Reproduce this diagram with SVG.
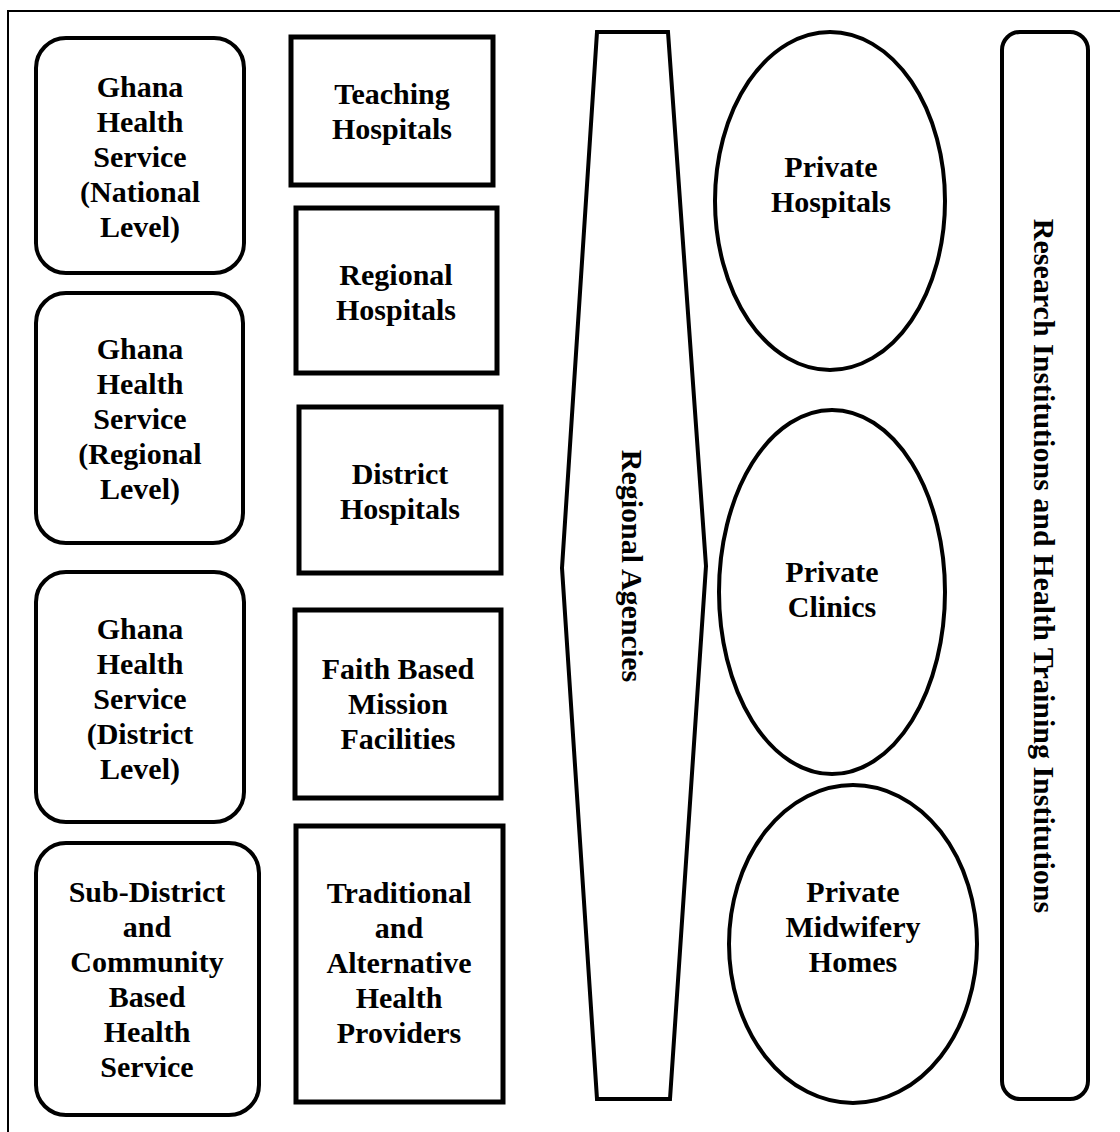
<svg xmlns="http://www.w3.org/2000/svg" width="1120" height="1132" viewBox="0 0 1120 1132">
<style>
.frame{fill:none;stroke:#000;stroke-width:2}
.rr{fill:#fff;stroke:#000;stroke-width:4}
.sq{fill:#fff;stroke:#000;stroke-width:5}
.el{fill:#fff;stroke:#000;stroke-width:4}
text{font-family:"Liberation Serif","Times New Roman",serif;font-weight:bold;font-size:30px;fill:#000;text-anchor:middle}
</style>
<rect width="1120" height="1132" fill="#fff"/>
<path class="frame" d="M8,1132 V11 H1120"/>
<g id="ghs-national">
<rect class="rr" x="36" y="38" width="208" height="235" rx="30"/>
<text x="140"><tspan x="140" y="97">Ghana</tspan><tspan x="140" y="132">Health</tspan><tspan x="140" y="167">Service</tspan><tspan x="140" y="202">(National</tspan><tspan x="140" y="237">Level)</tspan></text>
</g>
<g id="ghs-regional">
<rect class="rr" x="36" y="293" width="207" height="250" rx="30"/>
<text x="140"><tspan x="140" y="359">Ghana</tspan><tspan x="140" y="394">Health</tspan><tspan x="140" y="429">Service</tspan><tspan x="140" y="464">(Regional</tspan><tspan x="140" y="499">Level)</tspan></text>
</g>
<g id="ghs-district">
<rect class="rr" x="36" y="572" width="208" height="250" rx="30"/>
<text x="140"><tspan x="140" y="639">Ghana</tspan><tspan x="140" y="674">Health</tspan><tspan x="140" y="709">Service</tspan><tspan x="140" y="744">(District</tspan><tspan x="140" y="779">Level)</tspan></text>
</g>
<g id="sub-district">
<rect class="rr" x="36" y="843" width="223" height="272" rx="30"/>
<text x="147"><tspan x="147" y="902">Sub-District</tspan><tspan x="147" y="937">and</tspan><tspan x="147" y="972">Community</tspan><tspan x="147" y="1007">Based</tspan><tspan x="147" y="1042">Health</tspan><tspan x="147" y="1077">Service</tspan></text>
</g>
<g id="teaching">
<rect class="sq" x="291" y="37" width="202" height="148"/>
<text x="392"><tspan x="392" y="104">Teaching</tspan><tspan x="392" y="139">Hospitals</tspan></text>
</g>
<g id="regional-hosp">
<rect class="sq" x="296" y="208" width="201" height="165"/>
<text x="396"><tspan x="396" y="285">Regional</tspan><tspan x="396" y="320">Hospitals</tspan></text>
</g>
<g id="district-hosp">
<rect class="sq" x="299" y="407" width="202" height="166"/>
<text x="400"><tspan x="400" y="484">District</tspan><tspan x="400" y="519">Hospitals</tspan></text>
</g>
<g id="faith">
<rect class="sq" x="295" y="610" width="206" height="188"/>
<text x="398"><tspan x="398" y="679">Faith Based</tspan><tspan x="398" y="714">Mission</tspan><tspan x="398" y="749">Facilities</tspan></text>
</g>
<g id="traditional">
<rect class="sq" x="296" y="826" width="207" height="276"/>
<text x="399"><tspan x="399" y="903">Traditional</tspan><tspan x="399" y="938">and</tspan><tspan x="399" y="973">Alternative</tspan><tspan x="399" y="1008">Health</tspan><tspan x="399" y="1043">Providers</tspan></text>
</g>
<g id="regional-agencies">
<polygon class="rr" points="597,32 668,32 706,566 670,1099 597,1099 562,568"/>
<text transform="translate(622,566) rotate(90)" x="0" y="0">Regional Agencies</text>
</g>
<g id="private-hospitals">
<ellipse class="el" cx="830" cy="201" rx="115" ry="169"/>
<text x="831"><tspan x="831" y="177">Private</tspan><tspan x="831" y="212">Hospitals</tspan></text>
</g>
<g id="private-clinics">
<ellipse class="el" cx="832" cy="592" rx="113" ry="182"/>
<text x="832"><tspan x="832" y="582">Private</tspan><tspan x="832" y="617">Clinics</tspan></text>
</g>
<g id="private-midwifery">
<ellipse class="el" cx="853" cy="944" rx="124" ry="159"/>
<text x="853"><tspan x="853" y="902">Private</tspan><tspan x="853" y="937">Midwifery</tspan><tspan x="853" y="972">Homes</tspan></text>
</g>
<g id="research">
<rect class="rr" x="1002" y="32" width="86" height="1067" rx="18"/>
<text transform="translate(1034,566) rotate(90)" x="0" y="0">Research Institutions and Health Training Institutions</text>
</g>
<g id="connectors"></g>
</svg>
